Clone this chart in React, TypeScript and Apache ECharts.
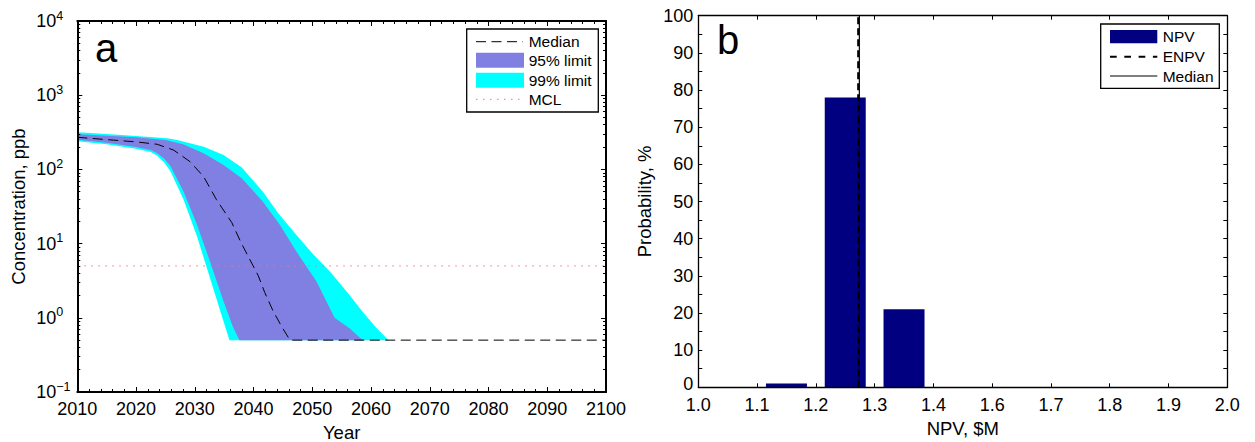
import React, { useEffect, useRef } from "react";
import * as echarts from "echarts";

const FONT = "'Liberation Sans', Arial, Helvetica, sans-serif";

// ---------- Panel a: concentration (ppb) vs year ----------
const median: [number, number][] = [
  [2010, 271], [2015, 252], [2020, 235], [2023.6, 218], [2026.4, 182], [2029.2, 127],
  [2031.5, 80], [2033.7, 39], [2036.3, 19.2], [2037.8, 10.6], [2039.1, 6.7], [2040.8, 3.7],
  [2041.9, 2.2], [2043.3, 1.25], [2044.8, 0.76], [2046.2, 0.5], [2100, 0.5],
];
const upper99: [number, number][] = [
  [2010, 316], [2015, 300], [2020, 281], [2025.3, 263], [2027, 249], [2031.5, 202],
  [2034.9, 156], [2038, 106], [2041.6, 50], [2044.2, 25.7], [2047.3, 13.1], [2050, 7.4],
  [2053, 4.2], [2056.1, 2.15], [2058.6, 1.2], [2061, 0.72], [2063, 0.5],
];
const lower99: [number, number][] = [
  [2010, 240], [2015, 218], [2020, 190], [2022.5, 172], [2023.6, 153], [2024.8, 124], [2025.9, 93],
  [2028.1, 39], [2030.4, 12.4], [2032.6, 3.4], [2034.9, 0.89], [2035.9, 0.5],
];
const upper95: [number, number][] = [
  [2010, 297], [2015, 284], [2020, 271], [2025, 249], [2028, 218], [2031.5, 165],
  [2034.9, 115], [2038, 76], [2041.6, 36.7], [2044.5, 17.8], [2047.3, 7.8], [2050.7, 3.1],
  [2053.8, 1.0], [2056.4, 0.72], [2058.6, 0.5],
];
const lower95: [number, number][] = [
  [2010, 251], [2015, 229], [2020, 200], [2022.5, 182], [2023.6, 165], [2024.8, 139], [2025.9, 109],
  [2028.1, 50], [2030.4, 17.8], [2032.6, 5.7], [2034.9, 1.66], [2036.5, 0.75], [2037.6, 0.5],
];
const mclLine: [number, number][] = [[2010, 5], [2100, 5]];
const decadeExponents = [-1, 0, 1, 2, 3];
const minorMultipliers = [2, 3, 4, 5, 6, 7, 8, 9];

// ---------- Panel b: NPV histogram ----------
const npvBinCenters = [1.15, 1.25, 1.35];
const npvProbability = [1, 78, 21];
const enpvValue = 1.272;
const npvMedianValue = 1.274;
const npvTickLabels = ["1.0", "1.1", "1.2", "1.3", "1.4", "1.6", "1.7", "1.8", "1.9", "2.0"];

const logMinorTicks: number[] = [];
decadeExponents.forEach((e) =>
  minorMultipliers.forEach((m) => logMinorTicks.push(+(m * Math.pow(10, e)).toPrecision(3)))
);

const BLACK = "#000";
const tickLabel = { color: BLACK, fontSize: 18, fontFamily: FONT, lineHeight: 14 };
const nameStyle = { color: BLACK, fontSize: 18.5, fontFamily: FONT };
const legendText = { fill: BLACK, fontSize: 15.5, fontFamily: FONT, verticalAlign: "middle" as const };

function bandItem(upper: [number, number][], lower: [number, number][], color: string) {
  return (params: any, api: any) => {
    const pts = upper.map((p) => api.coord(p)).concat(lower.slice().reverse().map((p) => api.coord(p)));
    return { type: "polygon", shape: { points: pts }, style: { fill: color, stroke: null } };
  };
}

function buildOption(): any {
  const lAxisLine = { show: true, onZero: false, lineStyle: { color: BLACK, width: 2 } };
  const rAxisLine = { show: true, onZero: false, lineStyle: { color: BLACK, width: 1.3 } };
  const majTick = { show: true, inside: true, length: 5, lineStyle: { color: BLACK, width: 1 } };
  const minTick = { show: true, inside: true, length: 3, lineStyle: { color: BLACK, width: 1 } };
  const rTick = { show: true, inside: true, length: 4, lineStyle: { color: BLACK, width: 1 } };
  const noSplit = { show: false };

  const yearAxisBase = {
    gridIndex: 0, type: "value", min: 2010, max: 2100, interval: 10,
    axisLine: lAxisLine, axisTick: majTick,
    minorTick: { show: true, splitNumber: 5, length: 3, lineStyle: { color: BLACK, width: 1 } },
    splitLine: noSplit, minorSplitLine: noSplit, z: 10,
  };
  const npvAxisBase = {
    gridIndex: 1, type: "value", min: 1.0, max: 1.9, interval: 0.1,
    axisLine: rAxisLine, axisTick: rTick, splitLine: noSplit, z: 10,
  };
  const concAxisBase = {
    gridIndex: 0, type: "log", logBase: 10, min: 0.1, max: 10000,
    splitLine: noSplit, minorSplitLine: noSplit, z: 10,
  };
  const probAxisBase = {
    gridIndex: 1, type: "value", min: 0, max: 100, interval: 10,
    axisLine: rAxisLine, axisTick: rTick,
    minorTick: { show: true, splitNumber: 2, length: 4, lineStyle: { color: BLACK, width: 1 } },
    splitLine: noSplit, minorSplitLine: noSplit, z: 10,
  };

  return {
    animation: false,
    backgroundColor: "#fff",
    grid: [
      { left: 77.3, top: 21, width: 528.7, height: 371, outerBoundsMode: "none", containLabel: false },
      { left: 698.3, top: 15.7, width: 529, height: 371.6, outerBoundsMode: "none", containLabel: false },
    ],
    xAxis: [
      {
        ...yearAxisBase, position: "bottom",
        axisLabel: { ...tickLabel, margin: 10, formatter: (v: number) => String(Math.round(v)) },
        name: "Year", nameLocation: "middle", nameGap: 23, nameTextStyle: nameStyle,
      },
      { ...yearAxisBase, position: "top", axisLabel: { show: false } },
      {
        ...npvAxisBase, position: "bottom",
        axisLabel: {
          ...tickLabel, margin: 10.5,
          formatter: (v: number) => npvTickLabels[Math.round((v - 1.0) / 0.1)] ?? "",
        },
        name: "NPV, $M", nameLocation: "middle", nameGap: 22, nameTextStyle: nameStyle,
      },
      { ...npvAxisBase, position: "top", axisLabel: { show: false } },
    ],
    yAxis: [
      {
        ...concAxisBase, position: "left", axisLine: lAxisLine, axisTick: majTick,
        axisLabel: {
          align: "left", margin: 41, color: BLACK, fontFamily: FONT,
          formatter: (v: number) => {
            const e = Math.round(Math.log10(v));
            return `{b|10}{s|${e < 0 ? "\u2212" + -e : e}}`;
          },
          rich: {
            b: { fontSize: 18, lineHeight: 24, fontFamily: FONT, color: BLACK, verticalAlign: "middle" },
            s: { fontSize: 12.5, lineHeight: 12, fontFamily: FONT, color: BLACK, verticalAlign: "top" },
          },
        },
        name: "Concentration, ppb", nameLocation: "middle", nameGap: 49, nameTextStyle: nameStyle,
      },
      {
        ...concAxisBase, position: "left", axisLine: { show: false },
        axisTick: { ...minTick, customValues: logMinorTicks }, axisLabel: { show: false },
      },
      { ...concAxisBase, position: "right", axisLine: lAxisLine, axisTick: majTick, axisLabel: { show: false } },
      {
        ...concAxisBase, position: "right", axisLine: { show: false },
        axisTick: { ...minTick, customValues: logMinorTicks }, axisLabel: { show: false },
      },
      {
        ...probAxisBase, position: "left",
        axisLabel: {
          ...tickLabel, margin: 5,
          formatter: (v: number) => (v === 0 ? "{z|0}" : String(v)),
          rich: { z: { fontSize: 18, fontFamily: FONT, color: BLACK, lineHeight: 14, padding: [0, 0, 6, 0] } },
        },
        name: "Probability, %", nameLocation: "middle", nameGap: 44, nameTextStyle: nameStyle,
      },
      { ...probAxisBase, position: "right", axisLabel: { show: false } },
    ],
    series: [
      {
        type: "custom", name: "99% limit", xAxisIndex: 0, yAxisIndex: 0, z: 1,
        data: [[2050, 1]], encode: { x: 0, y: 1 },
        renderItem: bandItem(upper99, lower99, "#00ffff"),
      },
      {
        type: "custom", name: "95% limit", xAxisIndex: 0, yAxisIndex: 0, z: 2,
        data: [[2050, 1]], encode: { x: 0, y: 1 },
        renderItem: bandItem(upper95, lower95, "#8080e2"),
      },
      {
        type: "line", name: "MCL", xAxisIndex: 0, yAxisIndex: 0, z: 3,
        data: mclLine, showSymbol: false, symbol: "none",
        lineStyle: { color: "#ff7070", width: 1, type: [1.5, 5.5] },
      },
      {
        type: "line", name: "Median", xAxisIndex: 0, yAxisIndex: 0, z: 4,
        data: median, showSymbol: false, symbol: "none",
        lineStyle: { color: BLACK, width: 1, type: [10, 5.5] },
      },
      {
        type: "bar", name: "NPV", xAxisIndex: 2, yAxisIndex: 4, z: 2,
        data: npvBinCenters.map((c, i) => [c, npvProbability[i]]),
        barWidth: 41, itemStyle: { color: "#000080" },
      },
      {
        type: "line", name: "ENPV", xAxisIndex: 2, yAxisIndex: 4, z: 4,
        data: [[enpvValue, 0], [enpvValue, 100]], showSymbol: false, symbol: "none",
        lineStyle: { color: BLACK, width: 2, type: [7, 4] },
      },
      {
        type: "line", name: "Median NPV", xAxisIndex: 2, yAxisIndex: 4, z: 5,
        data: [[npvMedianValue, 0], [npvMedianValue, 100]], showSymbol: false, symbol: "none",
        lineStyle: { color: BLACK, width: 1.2, type: "solid" },
      },
    ],
    graphic: [
      { type: "text", left: 95, top: 28, z: 20, style: { text: "a", fill: BLACK, fontSize: 40, fontFamily: FONT } },
      { type: "text", left: 717, top: 20, z: 20, style: { text: "b", fill: BLACK, fontSize: 40, fontFamily: FONT } },
      // legend a
      { type: "rect", z: 20, shape: { x: 466.7, y: 29, width: 131.6, height: 83 }, style: { fill: "#fff", stroke: BLACK, lineWidth: 1.3 } },
      { type: "line", z: 21, shape: { x1: 476, y1: 41.7, x2: 523, y2: 41.7 }, style: { stroke: BLACK, lineWidth: 1, lineDash: [10, 5.5] } },
      { type: "rect", z: 21, shape: { x: 476, y: 52.7, width: 48, height: 15 }, style: { fill: "#8080e2" } },
      { type: "rect", z: 21, shape: { x: 476, y: 72.7, width: 48, height: 15 }, style: { fill: "#00ffff" } },
      { type: "line", z: 21, shape: { x1: 476, y1: 99.3, x2: 523, y2: 99.3 }, style: { stroke: "#ff7070", lineWidth: 1, lineDash: [1.5, 5.5] } },
      { type: "text", z: 21, x: 528.7, y: 41.7, style: { ...legendText, text: "Median" } },
      { type: "text", z: 21, x: 528.7, y: 60.5, style: { ...legendText, text: "95% limit" } },
      { type: "text", z: 21, x: 528.7, y: 80.2, style: { ...legendText, text: "99% limit" } },
      { type: "text", z: 21, x: 528.7, y: 99.8, style: { ...legendText, text: "MCL" } },
      // legend b
      { type: "rect", z: 20, shape: { x: 1100.7, y: 24, width: 118.6, height: 64.3 }, style: { fill: "#fff", stroke: BLACK, lineWidth: 1.3 } },
      { type: "rect", z: 21, shape: { x: 1110, y: 30, width: 47.3, height: 13.3 }, style: { fill: "#000080" } },
      { type: "line", z: 21, shape: { x1: 1110, y1: 56.7, x2: 1157.3, y2: 56.7 }, style: { stroke: BLACK, lineWidth: 2, lineDash: [6.7, 7.6] } },
      { type: "line", z: 21, shape: { x1: 1110, y1: 76, x2: 1157.3, y2: 76 }, style: { stroke: BLACK, lineWidth: 1 } },
      { type: "text", z: 21, x: 1162.7, y: 36.7, style: { ...legendText, text: "NPV" } },
      { type: "text", z: 21, x: 1162.7, y: 56.7, style: { ...legendText, text: "ENPV" } },
      { type: "text", z: 21, x: 1162.7, y: 76.3, style: { ...legendText, text: "Median" } },
    ],
  };
}

export default function App() {
  const ref = useRef<HTMLDivElement>(null);
  useEffect(() => {
    if (!ref.current) return;
    const chart = echarts.init(ref.current, null, { renderer: "svg" });
    chart.setOption(buildOption());
    return () => chart.dispose();
  }, []);
  return (
    <div
      ref={ref}
      style={{ position: "absolute", left: 0, top: 0, width: 1255, height: 442, background: "#fff" }}
    />
  );
}
